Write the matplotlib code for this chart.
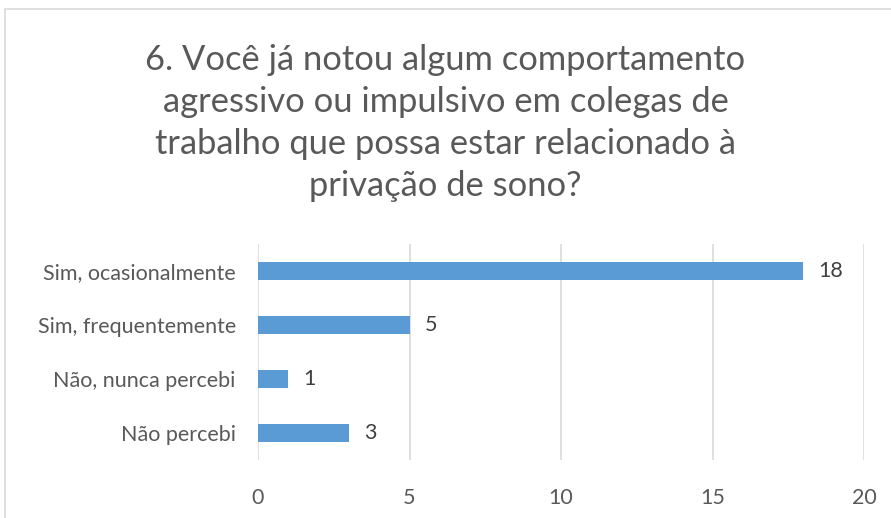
import matplotlib.pyplot as plt
from matplotlib.patches import Rectangle

categories = ['Sim, ocasionalmente', 'Sim, frequentemente', 'Não, nunca percebi', 'Não percebi']
values = [18, 5, 1, 3]
x_ticks = [0, 5, 10, 15, 20]

title = ('6. Você já notou algum comportamento\nagressivo ou impulsivo em colegas de\n'
         'trabalho que possa estar relacionado à\nprivação de sono?')

plt.rcParams['font.family'] = ['Lato', 'DejaVu Sans']
text_color = '#595959'

fig = plt.figure(figsize=(8.91, 5.18), dpi=100)
# chart area border (runs off the right and bottom edges)
fig.patches.append(Rectangle((5 / 891, -0.1), 1.2, 1 - 9 / 518 + 0.1, transform=fig.transFigure,
                             fill=False, edgecolor='#D9D9D9', linewidth=1.2))

ax = fig.add_axes([258 / 891, 1 - 460 / 518, (864 - 258) / 891, (460 - 244) / 518])
pos = list(range(len(categories)))
ax.barh(pos, values, height=0.34, color='#5B9BD5', zorder=3)
for p, v in zip(pos, values):
    ax.text(v + 0.5, p, str(v), va='center', ha='left', fontsize=15.5, color='#404040')

ax.set_xlim(0, 20)
ax.set_ylim(3.5, -0.5)
ax.set_xticks(x_ticks)
ax.set_yticks(pos)
ax.set_yticklabels(categories)
ax.tick_params(axis='both', length=0, labelsize=15.5, colors=text_color)
ax.tick_params(axis='x', pad=20)
ax.tick_params(axis='y', pad=16)
ax.xaxis.grid(True, color='#D9D9D9', linewidth=1.2, zorder=0)
for s in ax.spines.values():
    s.set_visible(False)

fig.text(0.5, 1 - 123 / 518, title, ha='center', va='center', fontsize=24.8,
         color=text_color, linespacing=1.38)

fig.savefig('out.png', dpi=100)
